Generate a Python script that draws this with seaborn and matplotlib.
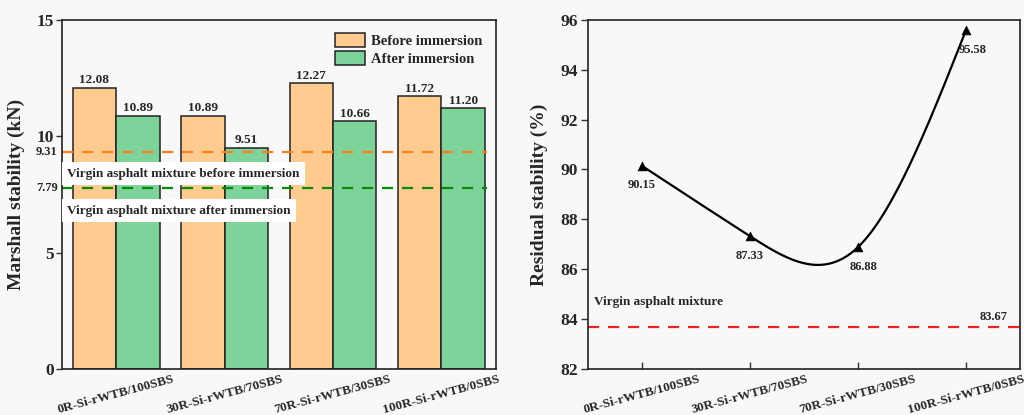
import numpy as np
import pandas as pd
import matplotlib
matplotlib.use("Agg")
import matplotlib.pyplot as plt
import seaborn as sns

# ---- data ----
categories = ["0R-Si-rWTB/100SBS", "30R-Si-rWTB/70SBS", "70R-Si-rWTB/30SBS", "100R-Si-rWTB/0SBS"]
before_immersion = [12.08, 10.89, 12.27, 11.72]
after_immersion = [10.89, 9.51, 10.66, 11.20]
virgin_before = 9.31
virgin_after = 7.79
residual_stability = [90.15, 87.33, 86.88, 95.58]
virgin_residual = 83.67
series_names = ["Before immersion", "After immersion"]

sns.set_theme(style="white")
plt.rcParams["font.family"] = ["Liberation Serif", "DejaVu Serif"]
plt.rcParams["font.weight"] = "bold"
plt.rcParams["axes.labelweight"] = "bold"

bg = "#f8f8f8"
fig = plt.figure(figsize=(10.24, 4.15), dpi=100, facecolor=bg)
ax1 = fig.add_axes([0.0605, 0.111, 0.4235, 0.841])
ax2 = fig.add_axes([0.574, 0.111, 0.422, 0.841])
for ax in (ax1, ax2):
    ax.set_facecolor(bg)

# ---- left: bar chart ----
df = pd.DataFrame({
    "cat": categories * 2,
    "val": before_immersion + after_immersion,
    "series": [series_names[0]] * 4 + [series_names[1]] * 4,
})
palette = {series_names[0]: "#ffcb8e", series_names[1]: "#7dd39a"}
sns.barplot(data=df, x="cat", y="val", hue="series", palette=palette, ax=ax1,
            width=0.8, edgecolor="#222222", linewidth=1.1, saturation=1)
for cont in ax1.containers:
    ax1.bar_label(cont, labels=[f"{v:.2f}" for v in cont.datavalues],
                  fontsize=9.5, fontweight="bold", padding=1)

ax1.set_xlim(-0.5, 3.5)
ax1.set_ylim(0, 15)
ax1.axhline(virgin_before, xmin=0, xmax=0.98, color="#ff7f1e", ls=(0, (5, 4)), lw=1.6)
ax1.axhline(virgin_after, xmin=0, xmax=0.98, color="#0a8a0a", ls=(0, (5, 4)), lw=1.6)
ax1.text(-0.45, 8.38, "Virgin asphalt mixture before immersion", fontsize=9.5,
         fontweight="bold", va="center", ha="left",
         bbox=dict(facecolor="white", edgecolor="none", pad=4))
ax1.text(-0.45, 6.79, "Virgin asphalt mixture after immersion", fontsize=9.5,
         fontweight="bold", va="center", ha="left",
         bbox=dict(facecolor="white", edgecolor="none", pad=4))

ax1.set_yticks([0, 5, 10, 15])
ax1.set_yticklabels(["0", "5", "10", "15"], fontsize=12.5, fontweight="bold")
ax1.tick_params(axis="y", direction="out", length=4, width=1, color="#333333", left=True, pad=2)
for v in (virgin_before, virgin_after):
    ax1.text(-0.01, v, f"{v:.2f}", transform=ax1.get_yaxis_transform(), ha="right",
             va="center", fontsize=9, fontweight="bold")
ax1.tick_params(axis="x", length=0, pad=3)
ax1.set_xticks(range(len(categories)))
ax1.set_xticklabels(categories, rotation=15, ha="center", fontsize=9.5, fontweight="bold")
ax1.set_xlabel("")
ax1.set_ylabel("Marshall stability (kN)", fontsize=14, fontweight="bold")
ax1.yaxis.set_label_coords(-0.085, 0.5)
for s in ax1.spines.values():
    s.set_color("#222222")
    s.set_linewidth(1.2)

leg = ax1.legend(loc="upper right", frameon=False, handlelength=2.1,
                 handleheight=1.1, borderaxespad=0.5, labelspacing=0.2, handletextpad=0.4,
                 prop={"weight": "bold", "size": 10.5, "family": "Liberation Serif"})

# ---- right: residual stability ----
xs = np.arange(len(residual_stability), dtype=float)
ys = np.array(residual_stability)
# natural cubic spline used only to draw the smooth connecting curve
n = len(xs)
A = np.zeros((n, n)); b = np.zeros(n)
A[0, 0] = 1; A[-1, -1] = 1
for i in range(1, n - 1):
    A[i, i - 1], A[i, i], A[i, i + 1] = 1, 4, 1
    b[i] = 6 * (ys[i - 1] - 2 * ys[i] + ys[i + 1])
M = np.linalg.solve(A, b)
xx, yy = [], []
for i in range(n - 1):
    t = np.linspace(0, 1, 60)
    seg = (ys[i] * (1 - t) + ys[i + 1] * t
           + ((1 - t) ** 3 - (1 - t)) * M[i] / 6 + (t ** 3 - t) * M[i + 1] / 6)
    xx.extend(xs[i] + t); yy.extend(seg)
curve = pd.DataFrame({"x": xx, "y": yy})
pts = pd.DataFrame({"x": xs, "y": ys})
sns.lineplot(data=curve, x="x", y="y", ax=ax2, color="black", lw=1.6, sort=False)
sns.scatterplot(data=pts, x="x", y="y", ax=ax2, marker="^", color="black", s=40,
                edgecolor="black", zorder=3)
offsets = [(0, -14), (0, -14), (4, -14), (5, -14)]
for x, y, off in zip(xs, ys, offsets):
    ax2.annotate(f"{y:.2f}", (x, y), textcoords="offset points", xytext=off,
                 ha="center", va="center", fontsize=9, fontweight="bold")
ax2.axhline(virgin_residual, color="#ee2020", ls=(0, (5, 4)), lw=1.6)
ax2.text(-0.44, 84.68, "Virgin asphalt mixture", fontsize=9.5, fontweight="bold",
         va="center", ha="left")
ax2.text(3.26, 84.07, f"{virgin_residual:.2f}", fontsize=9, fontweight="bold",
         va="center", ha="center")
ax2.set_xlim(-0.5, 3.5)
ax2.set_ylim(82, 96)
ax2.set_yticks(np.arange(82, 97, 2))
ax2.set_yticklabels([str(v) for v in range(82, 97, 2)], fontsize=12.5, fontweight="bold")
ax2.set_xticks(range(len(categories)))
ax2.set_xticklabels(categories, rotation=15, ha="center", fontsize=9.5, fontweight="bold")
ax2.tick_params(axis="y", direction="out", length=5, width=1, color="#333333", left=True, pad=2)
ax2.tick_params(axis="x", direction="in", length=5, width=1, color="#333333", bottom=True, pad=3)
ax2.set_xlabel("")
ax2.set_ylabel("Residual stability (%)", fontsize=14, fontweight="bold")
ax2.yaxis.set_label_coords(-0.093, 0.5)
for s in ax2.spines.values():
    s.set_color("#222222")
    s.set_linewidth(1.2)

fig.savefig("out.png", dpi=100, facecolor=bg)
